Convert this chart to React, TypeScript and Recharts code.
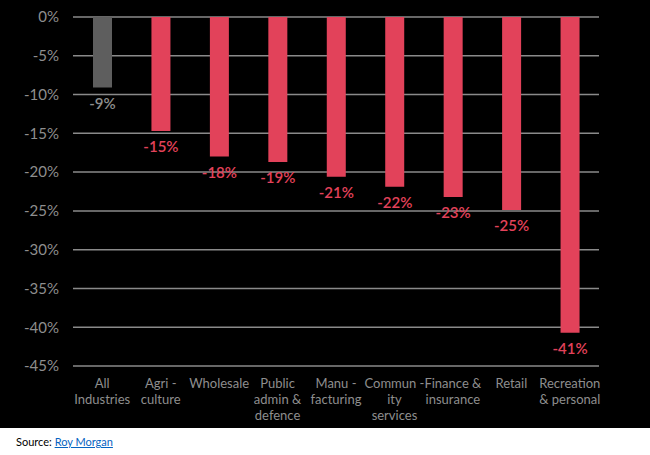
import React from "react";
import {
  BarChart,
  Bar,
  XAxis,
  YAxis,
  CartesianGrid,
  Cell,
  LabelList,
} from "recharts";

const industries = [
  "All\nIndustries",
  "Agri -\nculture",
  "Wholesale",
  "Public\nadmin &\ndefence",
  "Manu -\nfacturing",
  "Commun -\nity\nservices",
  "Finance &\ninsurance",
  "Retail",
  "Recreation\n& personal",
];
const changes = [-9.1, -14.7, -18.0, -18.7, -20.6, -21.9, -23.2, -24.9, -40.7];
const yTicks = [0, -5, -10, -15, -20, -25, -30, -35, -40, -45];

const RED = "#e2425a";
const GREY_BAR = "#5e5e5e";
const GREY_TEXT = "#8e8e8e";
const FONT = "Lato, 'Noto Sans', sans-serif";

const data = industries.map((name, i) => ({ name, value: changes[i] }));

function CategoryTick(props: any) {
  const { x, payload } = props;
  const lines = String(payload.value).split("\n");
  // place lines right under the bottom gridline (plot bottom = 366)
  return (
    <g transform={`translate(${x},366)`}>
      {lines.map((line, i) => (
        <text
          key={i}
          x={0}
          y={17 + i * 16}
          textAnchor="middle"
          dominantBaseline="central"
          fill={GREY_TEXT}
          fontSize={13}
          fontFamily={FONT}
        >
          {line}
        </text>
      ))}
    </g>
  );
}

function ValueLabel(props: any) {
  const { x, y, width, height, value, index } = props;
  const bottom = Math.max(y, y + height);
  return (
    <text
      x={x + width / 2}
      y={bottom + 15}
      textAnchor="middle"
      dominantBaseline="central"
      fill={index === 0 ? GREY_TEXT : RED}
      fontSize={15}
      fontWeight={600}
      fontFamily={FONT}
    >
      {`${Math.round(value)}%`}
    </text>
  );
}

export default function App() {
  return (
    <div
      style={{
        position: "absolute",
        top: 0,
        left: 0,
        width: 650,
        height: 455,
        background: "#fff",
        fontFamily: FONT,
      }}
    >
      <div style={{ background: "#000", width: 650, height: 428 }}>
        <BarChart
          width={650}
          height={428}
          data={data}
          margin={{ top: 17, right: 51, bottom: 0, left: 0 }}
        >
          <CartesianGrid
            vertical={false}
            stroke="#8a8a8a"
            strokeWidth={1.5}
          />
          <XAxis
            dataKey="name"
            height={62}
            axisLine={false}
            tickLine={false}
            interval={0}
            tick={<CategoryTick />}
          />
          <YAxis
            width={73}
            domain={[-45, 0]}
            ticks={yTicks}
            interval={0}
            axisLine={false}
            tickLine={false}
            tickSize={0}
            tickMargin={14}
            tickFormatter={(v: number) => `${v}%`}
            tick={{ fill: GREY_TEXT, fontSize: 15, fontFamily: FONT }}
          />
          <Bar dataKey="value" barSize={19} isAnimationActive={false}>
            {data.map((d, i) => (
              <Cell key={d.name} fill={i === 0 ? GREY_BAR : RED} />
            ))}
            <LabelList dataKey="value" content={<ValueLabel />} />
          </Bar>
        </BarChart>
      </div>
      <div
        style={{
          position: "absolute",
          left: 16,
          top: 435,
          fontSize: 11,
          lineHeight: "14px",
          fontFamily: "Lato, 'Liberation Sans', sans-serif",
          color: "#000",
        }}
      >
        Source:{" "}
        <span style={{ color: "#0563c1", textDecoration: "underline" }}>
          Roy Morgan
        </span>
      </div>
    </div>
  );
}
